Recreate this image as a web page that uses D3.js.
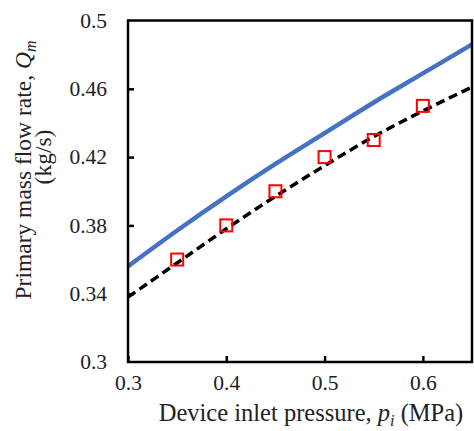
<!DOCTYPE html>
<html><head><meta charset="utf-8">
<script src="https://cdn.jsdelivr.net/npm/d3@7"></script>
<style>body{margin:0;background:#fff}svg{display:block}</style>
</head><body><svg id="c" width="474" height="431"></svg>
<script>
const xTicks = [0.3, 0.4, 0.5, 0.6];
const xTickLabels = ["0.3", "0.4", "0.5", "0.6"];
const yTicks = [0.3, 0.34, 0.38, 0.42, 0.46, 0.5];
const yTickLabels = ["0.3", "0.34", "0.38", "0.42", "0.46", "0.5"];
const lineX = [0.3, 0.35, 0.4, 0.45, 0.5, 0.55, 0.6, 0.65];
const blueY = [0.356, 0.377, 0.397, 0.416, 0.434, 0.452, 0.469, 0.486];
const dashY = [0.338, 0.358, 0.378, 0.397, 0.415, 0.432, 0.447, 0.461];
const expX = [0.35, 0.4, 0.45, 0.5, 0.55, 0.6];
const expY = [0.36, 0.38, 0.40, 0.42, 0.43, 0.45];

const FONT = "'Liberation Serif', Tinos, 'Times New Roman', Times, 'DejaVu Serif', serif";
const svg = d3.select("#c");
const L = 128, R = 472, T = 20.5, B = 362;
const x = d3.scaleLinear().domain([0.3, 0.65]).range([L, R]);
const y = d3.scaleLinear().domain([0.3, 0.5]).range([B, T]);

const line = d3.line().x(d => x(d[0])).y(d => y(d[1])).curve(d3.curveCatmullRom);
svg.append("path").datum(lineX.map((v, i) => [v, blueY[i]]))
  .attr("d", line).attr("fill", "none").attr("stroke", "#4472C4").attr("stroke-width", 4.5);
svg.append("path").datum(lineX.map((v, i) => [v, dashY[i]]))
  .attr("d", line).attr("fill", "none").attr("stroke", "#000").attr("stroke-width", 3.5)
  .attr("stroke-dasharray", "9,5");
svg.selectAll("rect.pt").data(expX.map((v, i) => [v, expY[i]])).enter().append("rect")
  .attr("class", "pt").attr("x", d => x(d[0]) - 6).attr("y", d => y(d[1]) - 6)
  .attr("width", 12).attr("height", 12).attr("fill", "none").attr("stroke", "#ff0000").attr("stroke-width", 2);

// frame
svg.append("rect").attr("x", L).attr("y", T).attr("width", R - L).attr("height", B - T)
  .attr("fill", "none").attr("stroke", "#000").attr("stroke-width", 2.5);

const xAxis = d3.axisBottom(x).tickValues(xTicks).tickSize(-6).tickPadding(13)
  .tickFormat((d, i) => xTickLabels[i]);
const gx = svg.append("g").attr("transform", `translate(0,${B})`).call(xAxis)
  .attr("font-family", FONT).attr("font-size", 21.5);
gx.select(".domain").remove();
gx.selectAll(".tick line").attr("stroke", "#000").attr("stroke-width", 2.5);
gx.selectAll("text").attr("fill", "#222");

const yAxis = d3.axisLeft(y).tickValues(yTicks).tickSize(-6).tickPadding(21)
  .tickFormat((d, i) => yTickLabels[i]);
const gy = svg.append("g").attr("transform", `translate(${L},0)`).call(yAxis)
  .attr("font-family", FONT).attr("font-size", 21.5);
gy.select(".domain").remove();
gy.selectAll(".tick line").attr("stroke", "#000").attr("stroke-width", 2.5)
  .attr("display", (d) => (d === 0.3 || d === 0.5) ? "none" : null);
gy.selectAll("text").attr("fill", "#222");

// x title
const xt = svg.append("text").attr("x", 311).attr("y", 421).attr("text-anchor", "middle")
  .attr("font-family", FONT).attr("font-size", 24.5).attr("fill", "#222");
xt.append("tspan").text("Device inlet pressure, ");
xt.append("tspan").attr("font-style", "italic").text("p");
xt.append("tspan").attr("font-style", "italic").attr("font-size", 16).attr("dy", 5).text("i");
xt.append("tspan").attr("dy", -5).text(" (MPa)");

// y title
const yt = svg.append("g").attr("transform", "translate(31,0) rotate(-90)")
  .attr("font-family", FONT).attr("font-size", 23.5).attr("fill", "#222");
const t1 = yt.append("text").attr("x", -170).attr("text-anchor", "middle");
t1.append("tspan").text("Primary mass flow rate, ");
t1.append("tspan").attr("font-style", "italic").text("Q");
t1.append("tspan").attr("font-style", "italic").attr("font-size", 16).attr("dy", 5).text("m");
yt.append("text").attr("x", -157).attr("y", 20).attr("text-anchor", "middle").text("(kg/s)");
</script></body></html>
